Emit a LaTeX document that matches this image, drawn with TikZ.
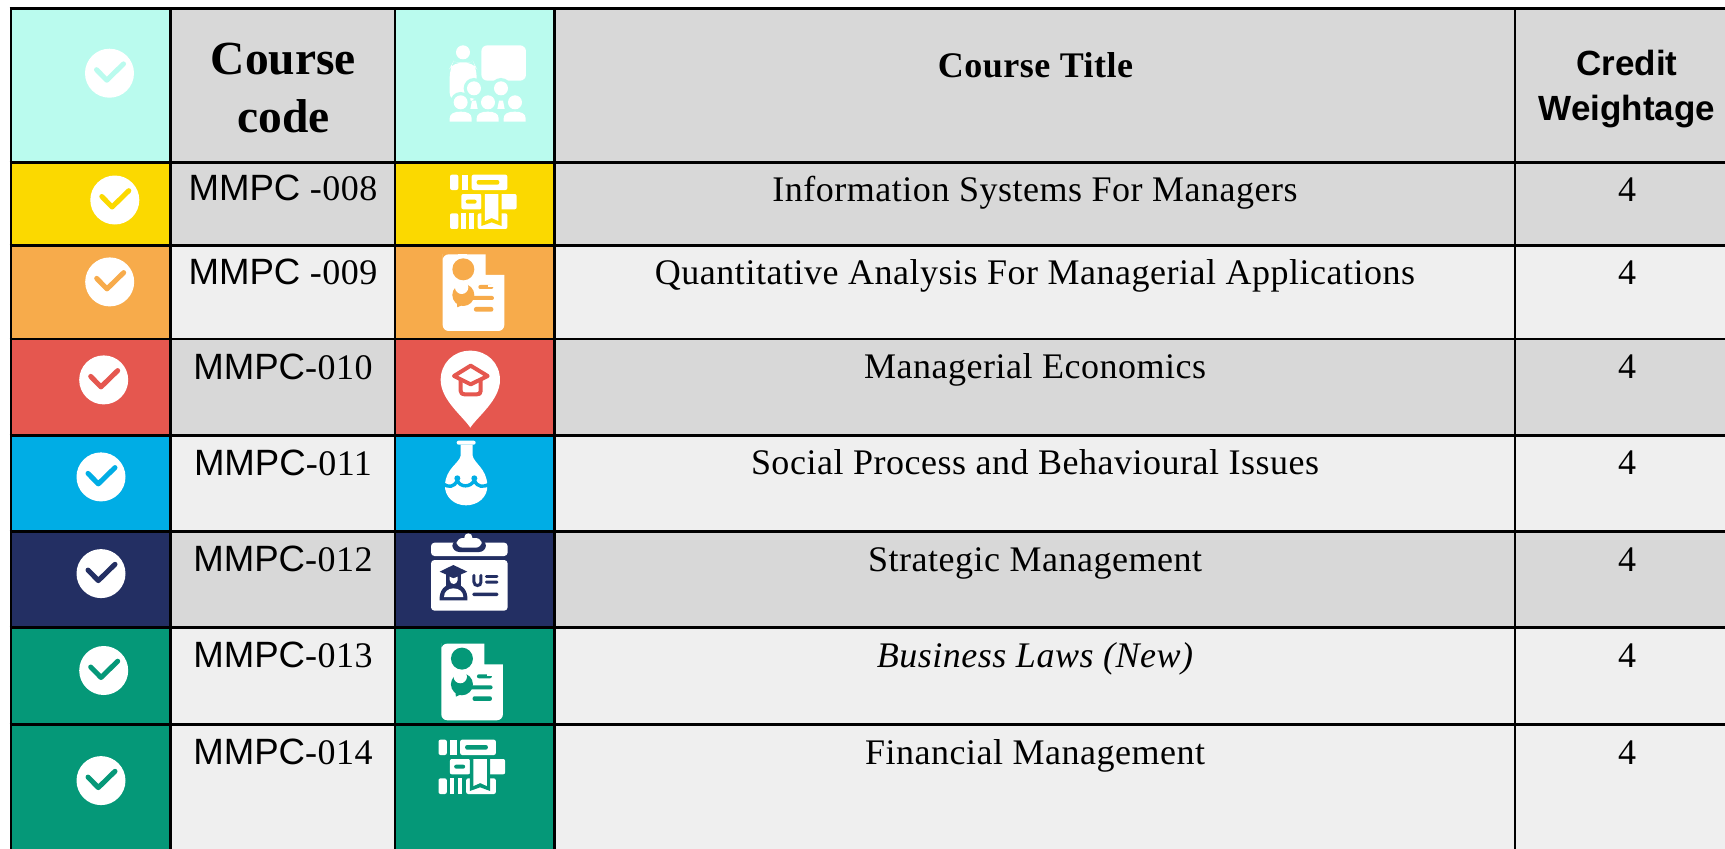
\documentclass[tikz,border=0pt]{standalone}
\usepackage{fontspec}
\setmainfont{Liberation Serif}
\newfontfamily\arialf{Liberation Sans}
\newfontfamily\spacedf[LetterSpace=1.4]{Liberation Serif}
\definecolor{mint}{HTML}{BAFBEE}
\definecolor{yel}{HTML}{FBD900}
\definecolor{ora}{HTML}{F7AB4B}
\definecolor{redd}{HTML}{E5574F}
\definecolor{blu}{HTML}{00ADE5}
\definecolor{nav}{HTML}{232F63}
\definecolor{grn}{HTML}{059878}
\definecolor{gra}{HTML}{D8D8D8}
\definecolor{lig}{HTML}{EFEFEF}
\tikzset{
  gridline/.style={black,line width=2.6pt},
  codetext/.style={anchor=base,inner sep=0pt,font=\fontsize{36}{36}\selectfont\spacedf},
  titletext/.style={anchor=base,inner sep=0pt,font=\fontsize{36}{36}\selectfont\spacedf},
  headserif/.style={anchor=base,inner sep=0pt,font=\fontsize{47.5}{47.5}\selectfont\bfseries},
  headsans/.style={anchor=base,inner sep=0pt,font=\fontsize{35}{35}\selectfont\arialf\bfseries},
  tickmark/.style={line width=5pt,line cap=round,line join=round},
}
\newcommand{\mmpc}{{\fontsize{36.6}{36}\selectfont\arialf MMPC}}
% check badge
\newcommand{\chkbadge}[3]{%
  \fill[white] (#1,#2) circle (24.5);
  \draw[tickmark,#3] (#1-13,#2-3.5) -- (#1-2.7,#2+7) -- (#1+14,#2-9.3);
}
% bars icon
\newcommand{\barsicon}[3]{%
 \begin{scope}[shift={(#1,#2)},x=0.3333pt,y=-0.3333pt]
  \begin{scope}[white]
  \fill[rounded corners=2pt] (90,44) rectangle (115,90);
  \fill (125,44) rectangle (145,90);
  \fill[rounded corners=2pt] (155,44) rectangle (262,90);
  \fill[rounded corners=2pt] (124,102) rectangle (185,148);
  \fill[rounded corners=2pt] (235,102) rectangle (290,148);
  \fill[rounded corners=2pt] (90,160) rectangle (115,207);
  \fill (124,160) rectangle (137,207);
  \fill (148,160) rectangle (162,207);
  \fill[rounded corners=2pt] (173,160) rectangle (262,207);
  \end{scope}
  \fill[#3,rounded corners=2pt] (170,60) rectangle (238,74);
  \fill[#3,rounded corners=2pt] (137,119) rectangle (170,131);
  \fill[#3] (184,102) -- (245,102) -- (245,198) -- (215,187) -- (184,198) -- cycle;
  \fill[white] (195,102) -- (235,102) -- (235,183) -- (215,174) -- (195,183) -- cycle;
 \end{scope}
}
% document icon
\newcommand{\docicon}[3]{%
 \begin{scope}[shift={(#1,#2)},x=0.3333pt,y=-0.3333pt]
  \fill[white,rounded corners=6pt] (68,300) -- (68,283) [sharp corners] -- (197,283) -- (197,345) -- (253,345) [rounded corners=6pt] -- (253,513) -- (68,513) -- cycle;
  \fill[#3] (130,328) circle (33);
  \fill[white] (113,283) rectangle (140,293);
  \fill[#3] (130,405) circle (33);
  \fill[#3] (110,425) -- (112,442) -- (130,434) -- cycle;
  \fill[white] (125,382) circle (20);
  \fill[#3,rounded corners=2pt] (175,375) rectangle (220,387);
  \fill[white] (205,375) rectangle (222,381);
  \fill[#3,rounded corners=2pt] (150,408) rectangle (222,420);
  \fill[#3,rounded corners=2pt] (162,441) rectangle (220,455);
 \end{scope}
}
\begin{document}
\begin{tikzpicture}[x=1pt,y=-1pt]
\useasboundingbox (0,0) rectangle (1725,849);
\fill[white] (0,0) rectangle (1725,849);
% cell fills
\fill[mint] (11,8.5) rectangle (170.7,162.3);
\fill[mint] (395,8.5) rectangle (554.5,162.3);
\fill[gra] (170.7,8.5) rectangle (395,162.3);
\fill[gra] (554.5,8.5) rectangle (1725,162.3);
\foreach \ya/\yb/\ca/\cb in {162.3/245.3/yel/gra,245.3/339/ora/lig,339/435.3/redd/gra,435.3/531.5/blu/lig,531.5/627.5/nav/gra,627.5/724.2/grn/lig,724.2/849/grn/lig}{
  \fill[\ca] (11,\ya) rectangle (170.7,\yb);
  \fill[\ca] (395,\ya) rectangle (554.5,\yb);
  \fill[\cb] (170.7,\ya) rectangle (395,\yb);
  \fill[\cb] (554.5,\ya) rectangle (1725,\yb);
}
% grid
\foreach \yy in {8.5,162.3,245.3,339,435.3,531.5,627.5,724.2}{
  \draw[gridline] (9.7,\yy) -- (1725,\yy);
}
\foreach \xx in {11,170.7,395,554.5,1515}{
  \draw[gridline] (\xx,7.2) -- (\xx,849);
}
% badges
\chkbadge{109.5}{73.2}{mint}
\chkbadge{114.8}{200}{yel}
\chkbadge{109.7}{281.9}{ora}
\chkbadge{103.7}{379.9}{redd}
\chkbadge{101}{476.9}{blu}
\chkbadge{101}{573.6}{nav}
\chkbadge{103.7}{670.5}{grn}
\chkbadge{101}{780.6}{grn}
% header text
\node[headserif] (hc1) at (283.5,74) {Course};
\node[headserif] (hc2) at (283.5,132) {code};
\node[anchor=base,inner sep=0pt,font=\fontsize{36}{36}\selectfont\spacedf\bfseries] (ht) at (1035.5,77) {Course Title};
\node[headsans] (hw1) at (1627,75.7) {Credit};
\node[headsans] (hw2) at (1627,120) {Weightage};
% codes
\node[codetext] (c1) at (283,200.7) {\mmpc\ -008};
\node[codetext] (c2) at (283,284.2) {\mmpc\ -009};
\node[codetext] (c3) at (283,379.3) {\mmpc-010};
\node[codetext] (c4) at (283,475.3) {\mmpc-011};
\node[codetext] (c5) at (283,571.2) {\mmpc-012};
\node[codetext] (c6) at (283,667.3) {\mmpc-013};
\node[codetext] (c7) at (283,764.2) {\mmpc-014};
% titles
\node[titletext] (t1) at (1035,201.3) {Information Systems For Managers};
\node[titletext] (t2) at (1035,284.3) {Quantitative Analysis For Managerial Applications};
\node[titletext] (t3) at (1035,378.5) {Managerial Economics};
\node[titletext] (t4) at (1035,474.5) {Social Process and Behavioural Issues};
\node[titletext] (t5) at (1035,571) {Strategic Management};
\node[titletext] (t6) at (1035,667.5) {\itshape Business Laws (New)};
\node[titletext] (t7) at (1035,764) {Financial Management};
% credits
\foreach \yy/\nm in {201.3/1,284.3/2,378.5/3,474.5/4,571/5,667.5/6,764/7}{
  \node[titletext] (w\nm) at (1627,\yy) {4};
}
% group icon
\begin{scope}[shift={(420,30)},x=0.3333pt,y=-0.3333pt]
  \fill[white,rounded corners=6pt] (184,46) rectangle (318,152);
  \fill[white] (129,67) circle (21);
  \fill[white,rounded corners=9pt] (89,215) -- (89,115) -- (100,95) -- (129,100) -- (160,95) -- (170,115) -- (170,215) -- cycle;
  \fill[mint] (162,175) circle (31);
  \fill[mint] (243,175) circle (31);
  \fill[mint] (122,217) circle (31);
  \fill[mint] (204,217) circle (31);
  \fill[mint] (285,217) circle (31);
  \fill[mint] (85,215) rectangle (92,300);
  \fill[white] (162,175) circle (21);
  \fill[white] (243,175) circle (21);
  \fill[white] (122,217) circle (21);
  \fill[white] (204,217) circle (21);
  \fill[white] (285,217) circle (21);
  \fill[white] (156,212) -- (168,212) -- (173,237) -- (151,237) -- cycle;
  \fill[white] (237,212) -- (249,212) -- (254,237) -- (232,237) -- cycle;
  \foreach \xa in {89,170,251}{
    \fill[white] (\xa,275) -- (\xa,265) .. controls (\xa,250) and (\xa+15,245) .. (\xa+33,245) .. controls (\xa+52,245) and (\xa+66,250) .. (\xa+66,265) -- (\xa+66,275) -- cycle;
  }
\end{scope}
% bars icons
\barsicon{420}{160}{yel}
\barsicon{408.5}{725}{grn}
% document icons
\docicon{420}{160}{ora}
\docicon{418.6}{549.3}{grn}
% pin icon
\begin{scope}[shift={(430,345)},x=0.3333pt,y=-0.3333pt]
  \fill[white] (121,248) .. controls (100,215) and (32,165) .. (32,105) .. controls (32,55) and (70,17) .. (121,17) .. controls (172,17) and (210,55) .. (210,105) .. controls (210,165) and (142,215) .. (121,248) -- cycle;
  \draw[redd,line width=4pt,line cap=round,line join=round] (92,105) -- (92,138) .. controls (92,146) and (98,148) .. (104,148) -- (140,148) .. controls (148,148) and (152,146) .. (152,138) -- (152,105);
  \draw[redd,line width=4pt,line join=round,fill=white] (122,62) -- (72,93) -- (122,118) -- (173,93) -- cycle;
\end{scope}
% flask icon
\begin{scope}[shift={(430,435)},x=0.3333pt,y=-0.3333pt]
  \fill[white,rounded corners=2pt] (80,17) rectangle (137,29);
  \fill[white] (92,29) -- (128,29) -- (128,62) .. controls (132,85) and (170,100) .. (172,150) .. controls (174,185) and (145,211) .. (108,211) .. controls (72,211) and (43,185) .. (45,150) .. controls (47,100) and (88,85) .. (92,62) -- cycle;
  \draw[blu,line width=3.4pt,line join=round] (38,146) .. controls (55,158) and (72,158) .. (82,136) .. controls (90,158) and (122,158) .. (133,136) .. controls (143,158) and (160,158) .. (180,146);
  \fill[blu] (82,130) circle (9);
  \fill[blu] (133,130) circle (9);
\end{scope}
% badge icon
\begin{scope}[shift={(425,530)},x=0.3333pt,y=-0.3333pt]
  \fill[white,rounded corners=3.5pt] (18,78) -- (18,38) -- (248,38) -- (248,78) -- cycle;
  \fill[white,rounded corners=3.5pt] (18,90) -- (248,90) -- (248,242) -- (18,242) -- cycle;
  \fill[nav,rounded corners=7pt] (82,28) rectangle (183,66);
  \fill[white,rounded corners=6pt] (95,24) rectangle (170,53);
  \fill[white] (130,22) circle (12);
  \fill[nav] (44,125) -- (85,105) -- (127,125) -- (85,143) -- cycle;
  \fill[nav] (64,125) rectangle (107,172);
  \fill[white] (74,140) -- (85,145) -- (98,140) -- (98,150) .. controls (96,166) and (76,166) .. (74,150) -- cycle;
  \fill[nav] (44,211) .. controls (42,180) and (60,162) .. (85,162) .. controls (112,162) and (129,180) .. (127,211) -- cycle;
  \fill[white] (57,201) .. controls (57,185) and (70,175) .. (85,175) .. controls (102,175) and (115,185) .. (115,201) -- cycle;
  \draw[nav,line width=3pt,line cap=round] (147,136) -- (147,156) .. controls (147,170) and (168,170) .. (168,156) -- (168,136);
  \fill[nav,rounded corners=1.3pt] (180,135) rectangle (220,143.5);
  \fill[nav,rounded corners=1.3pt] (180,152) rectangle (220,160.5);
  \fill[nav,rounded corners=1.3pt] (142,188) rectangle (220,198);
\end{scope}
\end{tikzpicture}
\end{document}
